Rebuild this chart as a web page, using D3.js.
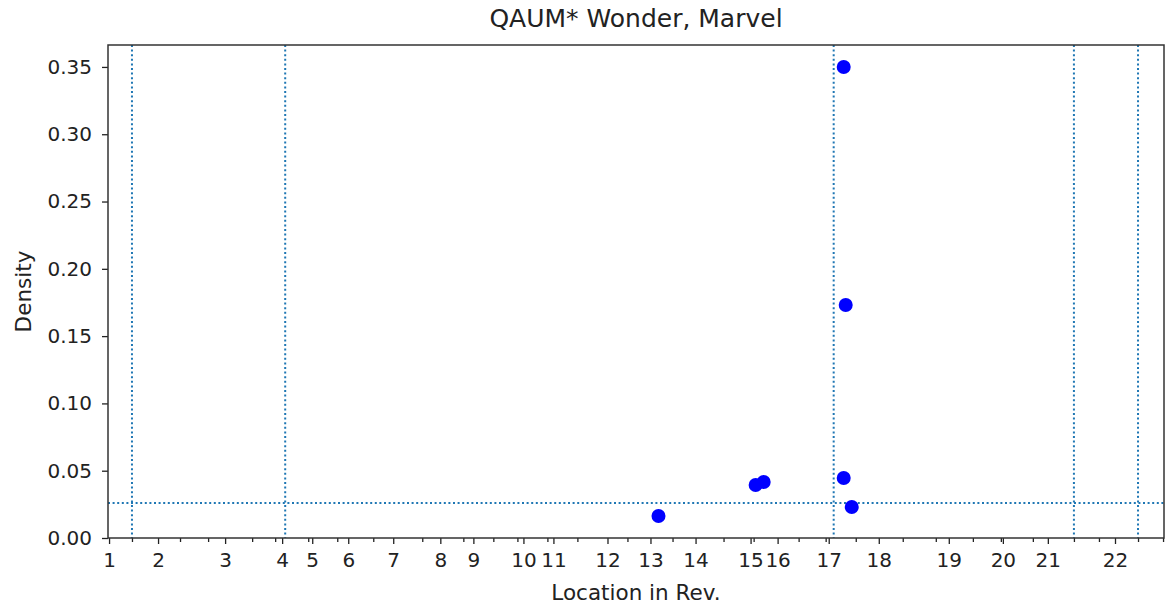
<!DOCTYPE html>
<html>
<head>
<meta charset="utf-8">
<script src="https://cdn.jsdelivr.net/npm/d3@7"></script>
<style>
  body { margin: 0; background: #fff; }
  text { font-family: "DejaVu Sans", sans-serif; fill: #222; }
</style>
</head>
<body>
<div id="chart"></div>
<script>
// chapter starts in Rev., as % of the book
var chapterLabels = ["1","2","3","4","5","6","7","8","9","10","11","12","13","14","15","16","17","18","19","20","21","22"];
var chapterStarts = [0.1, 4.74, 11.09, 16.49, 19.34, 22.75, 27.01, 31.47, 34.60, 39.34, 42.18,
                     47.30, 51.37, 55.64, 60.85, 63.41, 68.25, 72.99, 79.62, 84.74, 89.00, 95.36];
var minorTicks = [2.27, 6.82, 9.48, 13.65, 15.83, 18.96, 21.71, 25.12, 29.76, 33.65, 36.49, 38.77,
                  41.61, 44.45, 49.19, 53.46, 58.29, 61.14, 65.40, 67.96, 70.81, 75.26, 78.39,
                  81.90, 84.55, 87.58, 91.47, 93.84, 97.54, 99.91];
var markerLines = [2.27, 16.78, 68.72, 91.47, 97.54];
var threshold = 0.026;

// occurrences
var locs    = [52.13, 61.33, 62.09, 69.67, 69.86, 69.67, 70.43];
var density = [0.0163, 0.0394, 0.0416, 0.350, 0.1731, 0.0446, 0.0230];

var yTicks = [0, 0.05, 0.10, 0.15, 0.20, 0.25, 0.30, 0.35];

var W = 1165, H = 605;
var margin = {top: 45, right: 1, bottom: 67, left: 108};
var width = W - margin.left - margin.right;
var height = H - margin.top - margin.bottom;

var svg = d3.select("#chart")
            .append("svg")
              .attr("width", W)
              .attr("height", H)
            .append("g")
              .attr("transform", "translate(" + margin.left + "," + margin.top + ")");

var x = d3.scaleLinear().domain([0, 100]).range([0, width]);
var y = d3.scaleLinear().domain([0, 0.3663]).range([height, 0]);

// dotted reference lines
svg.selectAll(null)
    .data(markerLines)
    .enter()
    .append("line")
      .attr("x1", function(d) { return x(d); })
      .attr("x2", function(d) { return x(d); })
      .attr("y1", 0)
      .attr("y2", height)
      .attr("stroke", "#1f77b4")
      .attr("stroke-width", 2)
      .attr("stroke-dasharray", "2,2.6");

svg.append("line")
    .attr("x1", 0)
    .attr("x2", width)
    .attr("y1", y(threshold))
    .attr("y2", y(threshold))
    .attr("stroke", "#1f77b4")
    .attr("stroke-width", 2)
    .attr("stroke-dasharray", "2,2.6");

// points
svg.selectAll(null)
    .data(locs)
    .enter()
    .append("circle")
      .attr("cx", function(d) { return x(d); })
      .attr("cy", function(d, i) { return y(density[i]); })
      .attr("r", 7)
      .attr("fill", "#0000ff");

// minor x ticks
svg.append("g")
    .attr("transform", "translate(0," + height + ")")
    .call(d3.axisBottom(x).tickValues(minorTicks).tickSize(4).tickFormat(""))
    .call(function(g) { g.select(".domain").remove(); })
    .selectAll("line").attr("stroke", "#222").attr("stroke-width", 1.3);

// major x ticks (chapter starts)
var xAxis = svg.append("g")
    .attr("transform", "translate(0," + height + ")")
    .call(d3.axisBottom(x)
            .tickValues(chapterStarts)
            .tickSize(6)
            .tickPadding(9)
            .tickFormat(function(d, i) { return chapterLabels[i]; }));
xAxis.select(".domain").remove();
xAxis.selectAll("line").attr("stroke", "#222").attr("stroke-width", 1.3);
xAxis.selectAll("text").attr("font-size", "20px").attr("font-family", "DejaVu Sans").attr("fill", "#222");

var yAxis = svg.append("g")
    .call(d3.axisLeft(y)
            .tickValues(yTicks)
            .tickSize(6)
            .tickPadding(10)
            .tickFormat(d3.format(".2f")));
yAxis.select(".domain").remove();
yAxis.selectAll("line").attr("stroke", "#222").attr("stroke-width", 1.3);
yAxis.selectAll("text").attr("font-size", "20px").attr("font-family", "DejaVu Sans").attr("fill", "#222");

// frame
svg.append("rect")
    .attr("x", 0)
    .attr("y", 0)
    .attr("width", width)
    .attr("height", height)
    .attr("fill", "none")
    .attr("stroke", "#333")
    .attr("stroke-width", 1.5);

svg.append("text")
    .attr("text-anchor", "middle")
    .attr("font-size", "25px")
    .attr("x", width / 2)
    .attr("y", -18)
    .text("QAUM* Wonder, Marvel");

svg.append("text")
    .attr("text-anchor", "middle")
    .attr("font-size", "21.5px")
    .attr("x", width / 2)
    .attr("y", height + 62)
    .text("Location in Rev.");

svg.append("text")
    .attr("text-anchor", "middle")
    .attr("font-size", "21.5px")
    .attr("transform", "translate(" + (31 - margin.left) + "," + (height / 2) + ") rotate(-90)")
    .text("Density");
</script>
</body>
</html>
